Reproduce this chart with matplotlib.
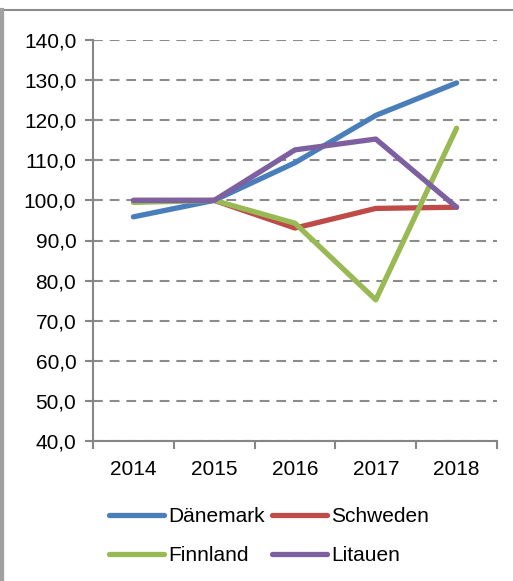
import matplotlib.pyplot as plt
from matplotlib.patches import Rectangle
from matplotlib.lines import Line2D

plt.rcParams['font.family'] = ['Liberation Sans', 'DejaVu Sans']

years = ['2014', '2015', '2016', '2017', '2018']
daenemark = [95.9, 100.0, 109.4, 121.2, 129.3]
schweden = [100.0, 100.0, 93.1, 98.0, 98.3]
finnland = [99.5, 100.0, 94.3, 75.2, 118.0]
litauen = [100.0, 100.0, 112.6, 115.3, 98.3]

names = ['Dänemark', 'Schweden', 'Finnland', 'Litauen']
colors = ['#4A7EBB', '#BE4B48', '#98B954', '#7D60A0']
series = [daenemark, schweden, finnland, litauen]

W, H = 513, 581
fig = plt.figure(figsize=(W / 100, H / 100), dpi=100)

# outer chart frame
fig.add_artist(Rectangle((3 / W, -0.01), 1.1, 1 - 10 / H + 0.01, transform=fig.transFigure,
                         fill=False, edgecolor='#8c8c8c', linewidth=1.5))
fig.add_artist(Line2D([1.5 / W, 1.5 / W], [0, 1 - 10 / H], transform=fig.transFigure,
                      color='#a0a0a0', linewidth=3))

ax = fig.add_axes([93 / W, 1 - 441 / H, (497 - 93) / W, (441 - 40) / H])

x = list(range(len(years)))
lines = []
for vals, name, c in zip(series, names, colors):
    ln, = ax.plot(x, vals, color=c, linewidth=3.8, label=name, solid_capstyle='round',
                  solid_joinstyle='round')
    lines.append(ln)

ax.set_ylim(40, 140)
ax.set_xlim(-0.5, len(years) - 0.5)
ax.set_yticks(range(40, 141, 10))
ax.set_yticklabels([f'{v},0' for v in range(40, 141, 10)])
ax.set_xticks([i - 0.5 for i in range(len(years) + 1)])
ax.set_xticklabels([])
ax.set_xticks(x, minor=True)
ax.set_xticklabels(years, minor=True)
ax.tick_params(axis='x', which='minor', length=0, pad=14, labelsize=15)
ax.tick_params(axis='x', which='major', length=6, width=1.5, color='#868686')
ax.tick_params(axis='y', length=6, width=1.5, color='#868686', labelsize=15, pad=6)

ax.yaxis.grid(True, linestyle=(0, (4.7, 3.3)), color='#8c8c8c', linewidth=1.5)
ax.set_axisbelow(True)
for s in ['top', 'right']:
    ax.spines[s].set_visible(False)
for s in ['left', 'bottom']:
    ax.spines[s].set_color('#868686')
    ax.spines[s].set_linewidth(1.5)

# row-wise legend order: Dänemark, Schweden / Finnland, Litauen
order = [0, 2, 1, 3]
fig.legend([lines[i] for i in order], [names[i] for i in order],
           loc='center', bbox_to_anchor=(269 / W, 1 - 536 / H), ncol=2, frameon=False,
           fontsize=15, handlelength=2.65, handletextpad=0.2, columnspacing=0.35,
           labelspacing=0.95)

fig.savefig('out.png', dpi=100)
